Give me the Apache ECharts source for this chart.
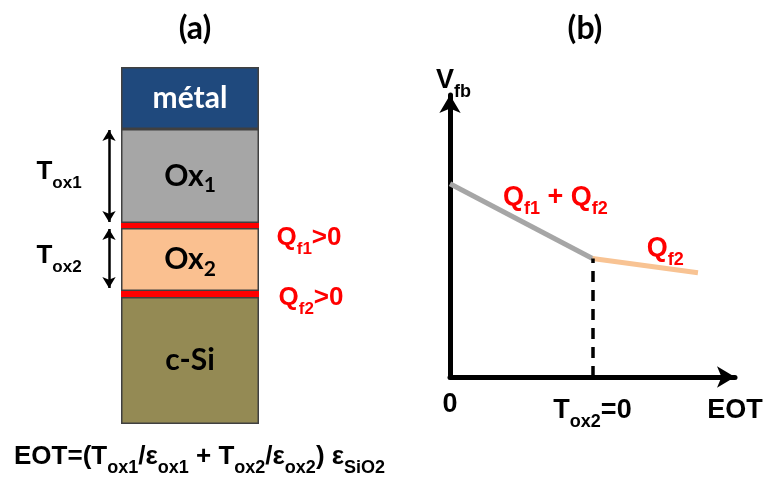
<!DOCTYPE html>
<html><head><meta charset="utf-8">
<script src="https://cdn.jsdelivr.net/npm/echarts@6/dist/echarts.min.js"></script>
<style>html,body{margin:0;padding:0;background:#fff}#c{width:766px;height:478px}</style>
</head><body><div id="c"></div>
<script>
// ---- data: panel (a) layer stack, bottom to top (relative thickness) ----
var layerNames = ['c-Si', 'Qf2', 'Ox2', 'Qf1', 'Ox1', 'métal'];
var layerThickness = [127, 6, 63, 5, 94, 62];
// ---- data: panel (b) Vfb vs EOT ----
var grayLine = [[0, 6.85], [5, 4.2]];      // Qf1 + Qf2 segment
var orangeLine = [[5, 4.2], [8.7, 3.7]];   // Qf2 segment
var eotTicks = [0, 5, 10];
var eotTickLabels = ['0', 'Tox2=0', 'EOT'];

var layerColors = ['#948a54', '#ff0000', '#fac090', '#ff0000', '#a6a6a6', '#1f497d'];
var layerLabelColors = ['#000', '#000', '#000', '#000', '#000', '#fff'];
var layerLabelText = {
  'c-Si': '{m|c-Si}', 'Ox2': '{m|Ox}{s|2}', 'Ox1': '{m|Ox}{s|1}', 'métal': '{m|métal}'
};
var AF = 'Liberation Sans, Arial, sans-serif';
var CF = 'Lato, Liberation Sans, sans-serif';

var bottoms = [];
var acc = 0;
for (var i = 0; i < layerThickness.length; i++) { bottoms.push(acc); acc += layerThickness[i]; }
var total = acc;
function layerIdx(n) { return layerNames.indexOf(n); }

var series = [];
layerNames.forEach(function (name, i) {
  var isIface = name.charAt(0) === 'Q';
  var c = layerLabelColors[i];
  series.push({
    type: 'bar', name: name, xAxisIndex: 0, yAxisIndex: 0, stack: 'layers',
    barWidth: '100%',
    data: [layerThickness[i]],
    itemStyle: { color: layerColors[i], borderColor: isIface ? layerColors[i] : '#404040', borderWidth: isIface ? 0 : 1.5 },
    label: isIface ? { show: false } : {
      show: true, position: 'inside',
      formatter: layerLabelText[name],
      rich: {
        m: { fontFamily: CF, fontWeight: 'bold', fontSize: 30, color: c, lineHeight: 40, verticalAlign: 'middle' },
        s: { fontFamily: CF, fontWeight: 'bold', fontSize: 21, color: c, lineHeight: 20, verticalAlign: 'bottom' }
      }
    },
    silent: true
  });
});

var subRich = function (main, sub, color) {
  return {
    m: { fontFamily: AF, fontWeight: 'bold', fontSize: main, color: color, lineHeight: 40, verticalAlign: 'middle' },
    s: { fontFamily: AF, fontWeight: 'bold', fontSize: sub, color: color, lineHeight: 18, verticalAlign: 'bottom' }
  };
};

var o1 = layerIdx('Ox1'), o2 = layerIdx('Ox2');
var q1 = layerIdx('Qf1'), q2 = layerIdx('Qf2');
var arrowX = 109;
series.push({
  type: 'scatter', xAxisIndex: 2, yAxisIndex: 2, symbolSize: 0, silent: true,
  itemStyle: { opacity: 1 },
  data: [
    { value: [59, bottoms[o1] + layerThickness[o1] / 2 + 4], label: { formatter: '{m|T}{s|ox1}' } },
    { value: [59, bottoms[o2] + layerThickness[o2] / 2 + 4], label: { formatter: '{m|T}{s|ox2}' } }
  ],
  label: { show: true, position: 'inside', rich: subRich(26, 17, '#000') },
  markLine: {
    silent: true, symbol: ['arrow', 'arrow'], symbolSize: [10, 11],
    lineStyle: { color: '#000', width: 2.5, type: 'solid' }, label: { show: false },
    data: [
      [{ coord: [arrowX, bottoms[o1] + 1] }, { coord: [arrowX, bottoms[o1] + layerThickness[o1] - 1] }],
      [{ coord: [arrowX, bottoms[o2] + 3] }, { coord: [arrowX, bottoms[o2] + layerThickness[o2] - 1] }]
    ]
  }
});
series.push({
  type: 'scatter', xAxisIndex: 2, yAxisIndex: 2, symbolSize: 0, silent: true,
  itemStyle: { opacity: 1 },
  data: [
    { value: [309, bottoms[q1] - 10], label: { formatter: '{m|Q}{s|f1}{m|>0}' } },
    { value: [311, bottoms[q2] - 1], label: { formatter: '{m|Q}{s|f2}{m|>0}' } }
  ],
  label: { show: true, position: 'inside', rich: subRich(26, 17, '#ff0000') }
});

// panel (b)
series.push({
  type: 'line', xAxisIndex: 1, yAxisIndex: 1, data: grayLine, symbol: 'none', silent: true,
  lineStyle: { color: '#a6a6a6', width: 5, cap: 'butt' },
  markLine: {
    silent: true, symbol: ['none', 'none'], label: { show: false },
    lineStyle: { color: '#000', width: 3.5, type: [11, 8] },
    data: [[{ coord: [grayLine[1][0], 0] }, { coord: [grayLine[1][0], grayLine[1][1]] }]]
  }
});
series.push({
  type: 'line', xAxisIndex: 1, yAxisIndex: 1, data: orangeLine, symbol: 'none', silent: true,
  lineStyle: { color: '#f8c393', width: 5, cap: 'butt' }
});
series.push({
  type: 'scatter', xAxisIndex: 1, yAxisIndex: 1, symbolSize: 0, silent: true,
  itemStyle: { opacity: 1 },
  data: [
    { value: [3.7, 6.35], label: { formatter: '{m|Q}{s|f1}{m| + Q}{s|f2}' } },
    { value: [7.55, 4.55], label: { formatter: '{m|Q}{s|f2}' } }
  ],
  label: { show: true, position: 'inside', rich: subRich(27, 18, '#ff0000') }
});

var option = {
  animation: false,
  backgroundColor: '#fff',
  title: [
    { text: '(a)', left: 190, top: 8, textAlign: 'center', textStyle: { fontFamily: CF, fontWeight: 'bold', fontSize: 32, color: '#000' } },
    { text: '(b)', left: 580, top: 8, textAlign: 'center', textStyle: { fontFamily: CF, fontWeight: 'bold', fontSize: 32, color: '#000' } },
    {
      text: '{m|EOT=(T}{s|ox1}{m|/ε}{s|ox1}{m| + T}{s|ox2}{m|/ε}{s|ox2}{m|) ε}{s|SiO2}',
      left: 9, top: 432,
      textStyle: { rich: subRich(26, 18, '#000') }
    }
  ],
  grid: [
    { left: 121, top: 67, width: 138, height: total },
    { left: 450, top: 95, width: 285, height: 282 },
    { left: 0, top: 67, width: 400, height: total }
  ],
  xAxis: [
    { type: 'category', gridIndex: 0, data: ['stack'], show: false },
    {
      type: 'value', gridIndex: 1, min: 0, max: 10, interval: 5,
      axisLine: { show: true, onZero: false, symbol: ['none', 'arrow'], symbolSize: [16, 18], lineStyle: { color: '#000', width: 5 } },
      axisTick: { show: false }, splitLine: { show: false },
      axisLabel: {
        margin: 14, color: '#000',
        formatter: function (v) {
          var k = eotTicks.indexOf(v);
          if (k < 0) return '';
          var t = eotTickLabels[k];
          if (t === 'Tox2=0') return '{m|T}{s|ox2}{m|=0}';
          if (t === '0') return '{z|0}';
          return '{m|' + t + '}';
        },
        rich: Object.assign(subRich(27, 18, '#000'), { z: { fontFamily: AF, fontWeight: 'bold', fontSize: 27, color: '#000', lineHeight: 40, verticalAlign: 'top' } })
      }
    },
    { type: 'value', gridIndex: 2, min: 0, max: 400, show: false }
  ],
  yAxis: [
    { type: 'value', gridIndex: 0, min: 0, max: total, show: false },
    {
      type: 'value', gridIndex: 1, min: 0, max: 10,
      name: '{m|V}{s|fb}', nameLocation: 'end', nameGap: -6,
      nameTextStyle: { rich: subRich(27, 18, '#000'), align: 'left', padding: [0, 0, 0, -14] },
      axisLine: { show: true, onZero: false, symbol: ['none', 'arrow'], symbolSize: [16, 18], lineStyle: { color: '#000', width: 5 } },
      axisTick: { show: false }, splitLine: { show: false }, axisLabel: { show: false }
    },
    { type: 'value', gridIndex: 2, min: 0, max: total, show: false }
  ],
  series: series
};
var chart = echarts.init(document.getElementById('c'), null, { renderer: 'canvas' });
chart.setOption(option);
</script></body></html>
